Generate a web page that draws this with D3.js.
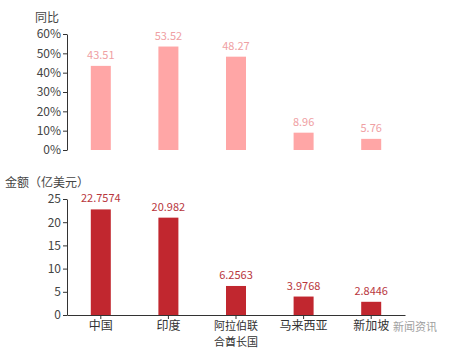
<!DOCTYPE html>
<html>
<head>
<meta charset="utf-8">
<script src="https://cdn.jsdelivr.net/npm/d3@7"></script>
<style>
  body { margin: 0; background: #fff; }
  text { font-family: "Noto Sans CJK SC", "Noto Sans", sans-serif; }
</style>
</head>
<body>
<div id="chart"></div>
<script>
// 同比 + 金额 - two stacked bar charts sharing categories

const countries = ["中国", "印度", "阿拉伯联\n合酋长国", "马来西亚", "新加坡"];
const yoyValues = [43.51, 53.52, 48.27, 8.96, 5.76];
const amountValues = [22.7574, 20.982, 6.2563, 3.9768, 2.8446];
const yoyTicks = [0, 10, 20, 30, 40, 50, 60];
const amountTicks = [0, 5, 10, 15, 20, 25];

const W = 450, H = 350;
const left = 67, right = 405;

const svg = d3.select("#chart").append("svg")
  .attr("width", W)
  .attr("height", H);

const x = d3.scaleBand()
  .domain(countries)
  .range([left, right]);
const barW = 20;

// ---- top chart: 同比 ----
const yTop = d3.scaleLinear().domain([0, 60]).range([150, 34]);

const topAxis = svg.append("g")
  .attr("transform", `translate(${left},0)`)
  .call(d3.axisLeft(yTop).tickValues(yoyTicks).tickSize(4).tickSizeOuter(0)
    .tickFormat(d => d + "%"));
topAxis.select(".domain").attr("stroke", "#333");
topAxis.selectAll(".tick line").attr("stroke", "#333");
topAxis.selectAll(".tick text")
  .attr("x", -6)
  .attr("fill", "#444")
  .style("font-size", "12px")
  .style("font-family", "'Noto Sans CJK SC', sans-serif");

svg.append("text")
  .attr("x", 35).attr("y", 22)
  .attr("fill", "#444")
  .style("font-size", "12px")
  .text("同比");

svg.selectAll(".bar-top")
  .data(countries)
  .join("rect")
  .attr("class", "bar-top")
  .attr("x", d => x(d) + x.bandwidth() / 2 - barW / 2)
  .attr("y", (d, i) => yTop(yoyValues[i]))
  .attr("width", barW)
  .attr("height", (d, i) => yTop(0) - yTop(yoyValues[i]))
  .attr("fill", "#ffa6a6");

svg.selectAll(".label-top")
  .data(countries)
  .join("text")
  .attr("class", "label-top")
  .attr("x", d => x(d) + x.bandwidth() / 2)
  .attr("y", (d, i) => yTop(yoyValues[i]) - 7)
  .attr("text-anchor", "middle")
  .attr("fill", "#efa0a3")
  .style("font-size", "11px")
  .text((d, i) => yoyValues[i]);

// ---- bottom chart: 金额 ----
const yBot = d3.scaleLinear().domain([0, 25]).range([315, 199]);

const botAxis = svg.append("g")
  .attr("transform", `translate(${left},0)`)
  .call(d3.axisLeft(yBot).tickValues(amountTicks).tickSize(4).tickSizeOuter(0));
botAxis.select(".domain").attr("stroke", "#333");
botAxis.selectAll(".tick line").attr("stroke", "#333");
botAxis.selectAll(".tick text")
  .attr("x", -6)
  .attr("fill", "#444")
  .style("font-size", "12px")
  .style("font-family", "'Noto Sans CJK SC', sans-serif");

svg.append("text")
  .attr("x", 5).attr("y", 187)
  .attr("fill", "#444")
  .style("font-size", "12px")
  .text("金额（亿美元）");

const xAxis = svg.append("g")
  .attr("transform", `translate(0,${yBot(0)})`)
  .call(d3.axisBottom(x).tickSize(4).tickSizeOuter(0).tickFormat(""));
xAxis.select(".domain").attr("stroke", "#333");
xAxis.selectAll(".tick line").attr("stroke", "#333");

svg.selectAll(".bar-bot")
  .data(countries)
  .join("rect")
  .attr("class", "bar-bot")
  .attr("x", d => x(d) + x.bandwidth() / 2 - barW / 2)
  .attr("y", (d, i) => yBot(amountValues[i]))
  .attr("width", barW)
  .attr("height", (d, i) => yBot(0) - yBot(amountValues[i]))
  .attr("fill", "#c1272f");

svg.selectAll(".label-bot")
  .data(countries)
  .join("text")
  .attr("class", "label-bot")
  .attr("x", d => x(d) + x.bandwidth() / 2)
  .attr("y", (d, i) => yBot(amountValues[i]) - 7)
  .attr("text-anchor", "middle")
  .attr("fill", "#b8363d")
  .style("font-size", "11px")
  .text((d, i) => amountValues[i]);

// category labels, one text per line
countries.forEach(c => {
  const lines = c.split("\n");
  lines.forEach((line, j) => {
    svg.append("text")
      .attr("class", "cat-label")
      .attr("x", x(c) + x.bandwidth() / 2)
      .attr("y", 330 + j * 16)
      .attr("text-anchor", "middle")
      .attr("fill", "#333")
      .style("font-size", lines.length > 1 ? "11px" : "12px")
      .text(line);
  });
});

// watermark
svg.append("text")
  .attr("x", 393).attr("y", 331)
  .attr("fill", "#888")
  .attr("opacity", 0.8)
  .style("font-size", "11px")
  .text("新闻资讯");
</script>
</body>
</html>
